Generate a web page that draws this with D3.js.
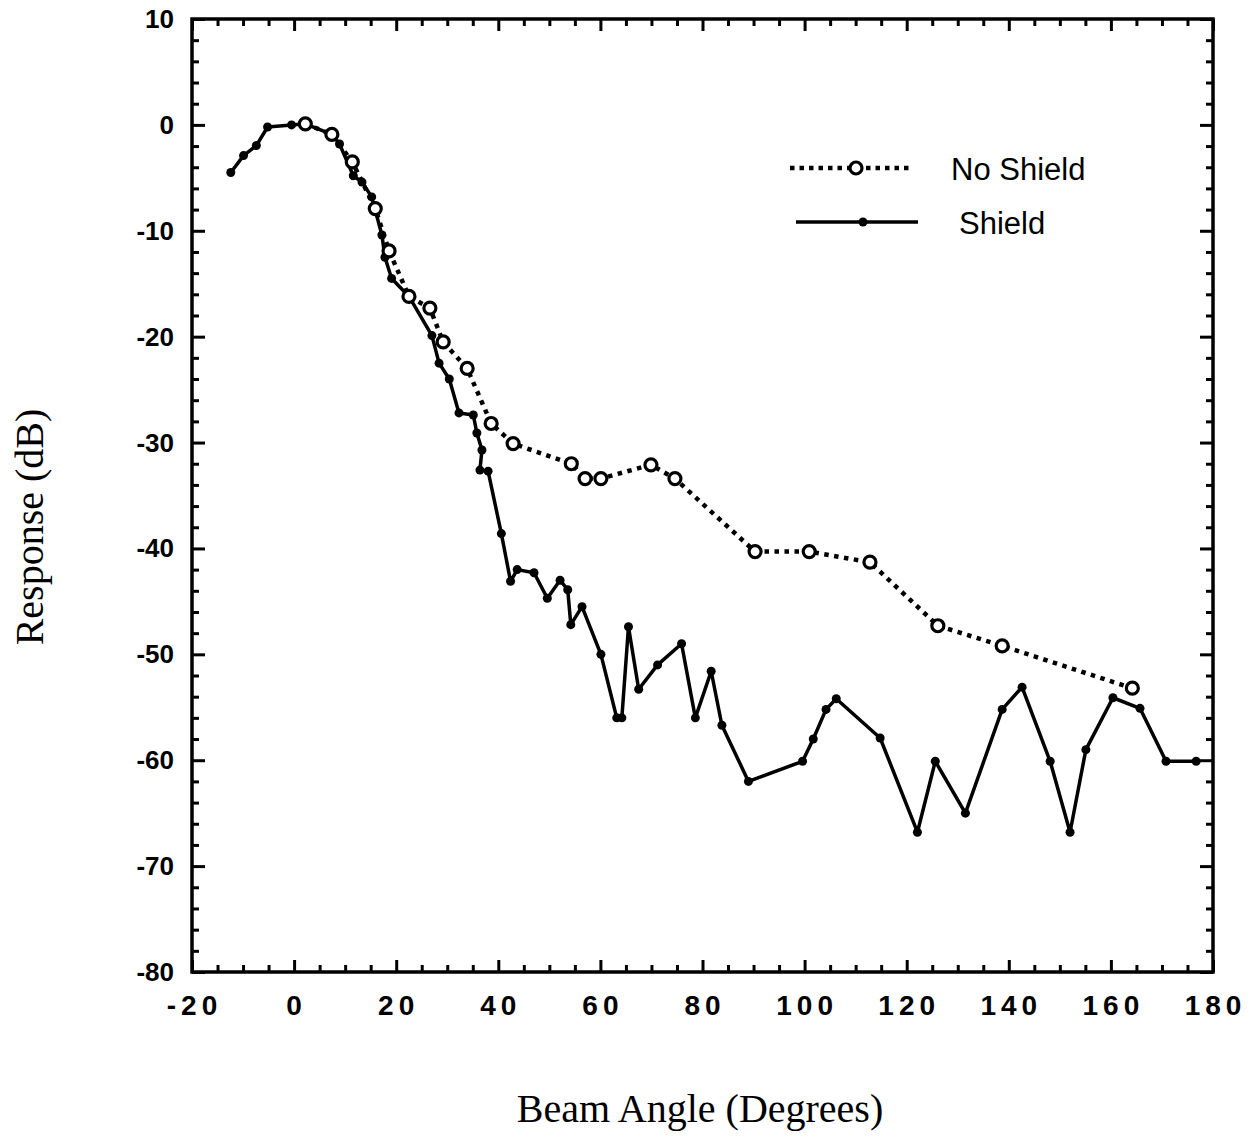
<!DOCTYPE html>
<html><head><meta charset="utf-8">
<script src="https://cdn.jsdelivr.net/npm/d3@7"></script>
<style>
body{margin:0;background:#fff;}
svg{display:block;}
</style></head>
<body>
<svg id="chart" width="1253" height="1141"></svg>
<script>
// Data
const noShieldAngle = [2.2, 7.4, 11.4, 15.9, 18.6, 22.5, 26.6, 29.2, 33.9, 38.6, 42.9, 54.3, 57.0, 60.1, 69.9, 74.6, 90.3, 100.9, 112.8, 126.1, 138.7, 164.2];
const noShieldResp  = [0.1, -0.9, -3.5, -7.9, -11.9, -16.2, -17.3, -20.5, -23.0, -28.2, -30.1, -32.0, -33.4, -33.4, -32.1, -33.4, -40.3, -40.3, -41.3, -47.3, -49.2, -53.2];

const shieldAngle = [-12.4, -9.9, -7.4, -5.2, -0.5, 2.2, 7.4, 8.9, 11.6, 13.3, 15.2, 17.2, 17.8, 19.1, 22.5, 27.0, 28.4, 30.4, 32.3, 35.1, 35.8, 36.8, 36.4, 38.0, 40.6, 42.4, 43.7, 47.0, 49.6, 52.1, 53.6, 54.2, 56.4, 60.1, 63.2, 64.2, 65.5, 67.5, 71.2, 75.9, 78.6, 81.7, 83.8, 89.0, 99.6, 101.7, 104.2, 106.2, 114.8, 122.1, 125.6, 131.5, 138.7, 142.6, 148.1, 152.0, 155.1, 160.4, 165.7, 170.8, 176.7];
const shieldResp  = [-4.5, -2.9, -1.95, -0.2, 0.0, 0.1, -0.9, -1.8, -4.8, -5.4, -6.8, -10.4, -12.5, -14.5, -16.2, -19.9, -22.5, -24.0, -27.2, -27.4, -29.1, -30.7, -32.6, -32.7, -38.6, -43.1, -42.0, -42.3, -44.7, -43.0, -43.9, -47.2, -45.5, -50.0, -56.0, -56.0, -47.4, -53.3, -51.0, -49.0, -56.0, -51.6, -56.7, -62.0, -60.1, -58.0, -55.2, -54.2, -57.9, -66.8, -60.1, -65.0, -55.2, -53.1, -60.1, -66.8, -59.0, -54.1, -55.1, -60.1, -60.1];

const xMajorTicks = [-20, 0, 20, 40, 60, 80, 100, 120, 140, 160, 180];
const yMajorTicks = [10, 0, -10, -20, -30, -40, -50, -60, -70, -80];
const seriesNames = ["No Shield", "Shield"];
const xTitle = "Beam Angle (Degrees)";
const yTitle = "Response (dB)";

const svg = d3.select("#chart");
const L = 192, R = 1213, T = 19, B = 972;
const x = d3.scaleLinear().domain([-20, 180]).range([L, R]);
const y = d3.scaleLinear().domain([-80, 10]).range([B, T]);

const xMinor = d3.range(-20, 181, 5).filter(v => v % 20 !== 0);
const yMinor = d3.range(-80, 11, 2).filter(v => v % 10 !== 0);

function tickAxes() {
  const g = svg.append("g");
  [[d3.axisBottom, B], [d3.axisTop, T]].forEach(([ax, pos]) => {
    g.append("g").attr("transform", `translate(0,${pos})`)
      .call(ax(x).tickValues(xMajorTicks).tickSize(-12).tickFormat(""))
      .call(s => s.select(".domain").remove());
    g.append("g").attr("transform", `translate(0,${pos})`)
      .call(ax(x).tickValues(xMinor).tickSize(-7).tickFormat(""))
      .call(s => s.select(".domain").remove());
  });
  [[d3.axisLeft, L], [d3.axisRight, R]].forEach(([ax, pos]) => {
    g.append("g").attr("transform", `translate(${pos},0)`)
      .call(ax(y).tickValues(yMajorTicks).tickSize(-13).tickFormat(""))
      .call(s => s.select(".domain").remove());
    g.append("g").attr("transform", `translate(${pos},0)`)
      .call(ax(y).tickValues(yMinor).tickSize(-7).tickFormat(""))
      .call(s => s.select(".domain").remove());
  });
  g.selectAll("line").attr("stroke", "#000").attr("stroke-width", 3);
}
tickAxes();

// frame
svg.append("rect").attr("x", L).attr("y", T).attr("width", R - L).attr("height", B - T)
  .attr("fill", "none").attr("stroke", "#000").attr("stroke-width", 3.5);

// tick labels
svg.append("g").selectAll("text").data(yMajorTicks).join("text")
  .attr("x", L - 18).attr("y", d => y(d) + 9)
  .attr("text-anchor", "end")
  .attr("font-family", "Liberation Sans, Arial, sans-serif")
  .attr("font-size", 26).attr("font-weight", "bold")
  .text(d => d);

svg.append("g").selectAll("text").data(xMajorTicks).join("text")
  .attr("x", d => x(d) + 2.5).attr("y", B + 43)
  .attr("text-anchor", "middle")
  .attr("font-family", "Liberation Sans, Arial, sans-serif")
  .attr("font-size", 28).attr("font-weight", "bold")
  .attr("letter-spacing", 5)
  .text(d => d);

// titles
svg.append("text").attr("x", 700).attr("y", 1122).attr("text-anchor", "middle")
  .attr("font-family", "Liberation Serif, Times New Roman, serif").attr("font-size", 40)
  .text(xTitle);
svg.append("text").attr("transform", "translate(43,527) rotate(-90)").attr("text-anchor", "middle")
  .attr("font-family", "Liberation Serif, Times New Roman, serif").attr("font-size", 40)
  .text(yTitle);

const line = d3.line().x(d => x(d[0])).y(d => y(d[1]));
const ns = noShieldAngle.map((a, i) => [a, noShieldResp[i]]);
const sh = shieldAngle.map((a, i) => [a, shieldResp[i]]);

// Shield series (solid)
svg.append("path").datum(sh).attr("d", line).attr("fill", "none")
  .attr("stroke", "#000").attr("stroke-width", 3.5).attr("stroke-linejoin", "round");
svg.append("g").selectAll("circle").data(sh).join("circle")
  .attr("cx", d => x(d[0])).attr("cy", d => y(d[1])).attr("r", 4.5).attr("fill", "#000");

// No Shield series (dotted)
svg.append("path").datum(ns).attr("d", line).attr("fill", "none")
  .attr("stroke", "#000").attr("stroke-width", 4.5).attr("stroke-dasharray", "4.5 5.5");
svg.append("g").selectAll("circle").data(ns).join("circle")
  .attr("cx", d => x(d[0])).attr("cy", d => y(d[1])).attr("r", 6)
  .attr("fill", "#fff").attr("stroke", "#000").attr("stroke-width", 3.2);

// Legend
const lg = svg.append("g");
lg.append("line").attr("x1", 790).attr("x2", 910).attr("y1", 168).attr("y2", 168)
  .attr("stroke", "#000").attr("stroke-width", 4.5).attr("stroke-dasharray", "4.5 5");
lg.append("circle").attr("cx", 856).attr("cy", 168).attr("r", 6)
  .attr("fill", "#fff").attr("stroke", "#000").attr("stroke-width", 3.2);
lg.append("text").attr("x", 951).attr("y", 180).attr("font-family", "Liberation Sans, Arial, sans-serif")
  .attr("font-size", 31).text(seriesNames[0]);
lg.append("line").attr("x1", 796).attr("x2", 918).attr("y1", 222).attr("y2", 222)
  .attr("stroke", "#000").attr("stroke-width", 3.5);
lg.append("circle").attr("cx", 863).attr("cy", 222).attr("r", 4.5).attr("fill", "#000");
lg.append("text").attr("x", 959).attr("y", 234).attr("font-family", "Liberation Sans, Arial, sans-serif")
  .attr("font-size", 31).text(seriesNames[1]);
</script>
</body></html>
